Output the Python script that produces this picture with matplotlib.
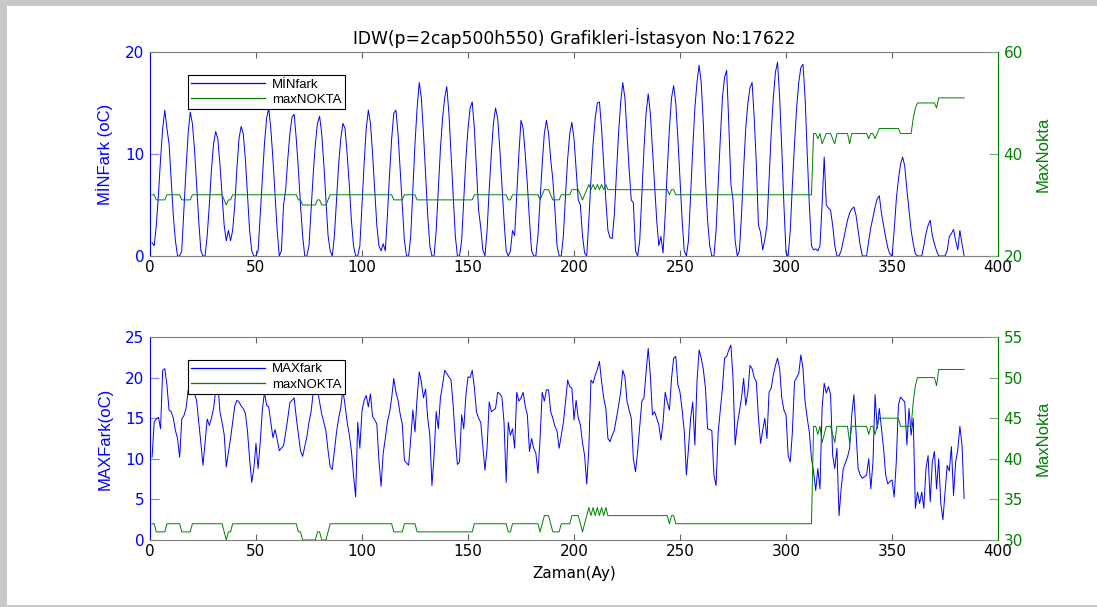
import matplotlib.pyplot as plt
import numpy as np
from matplotlib.patches import Rectangle

# monthly series, one row per year (32 years, 384 months)
months = np.arange(1, 385)

min_fark = np.array([
    [1.3, 1.0, 3.0, 6.0, 9.5, 12.5, 14.3, 12.5, 11.0, 7.5, 4.0, 1.5],
    [0.0, 0.0, 0.5, 4.5, 8.5, 12.0, 14.1, 13.0, 10.5, 7.0, 3.5, 0.5],
    [0.0, 0.0, 2.0, 5.0, 8.5, 11.0, 12.2, 11.5, 9.0, 6.0, 3.0, 1.5],
    [2.5, 1.5, 2.5, 5.0, 8.5, 11.5, 12.7, 12.0, 9.5, 6.0, 2.5, 0.5],
    [0.0, 0.0, 0.5, 4.0, 7.5, 11.0, 13.5, 14.5, 12.5, 9.5, 6.0, 2.5],
    [0.0, 0.5, 5.0, 6.5, 9.5, 12.0, 13.6, 13.9, 11.5, 8.5, 5.0, 2.0],
    [0.0, 0.0, 1.0, 4.5, 8.0, 11.0, 13.0, 13.7, 12.0, 9.0, 5.5, 2.0],
    [0.5, 0.0, 2.0, 5.5, 9.0, 11.5, 13.0, 12.5, 10.0, 7.0, 3.5, 1.0],
    [0.0, 0.0, 1.0, 5.0, 9.0, 12.5, 14.3, 13.0, 10.0, 6.5, 3.0, 1.0],
    [0.5, 1.2, 0.5, 4.0, 8.0, 11.5, 14.0, 14.3, 12.0, 8.5, 5.0, 1.5],
    [0.0, 0.0, 2.0, 6.5, 11.0, 14.5, 17.0, 15.5, 12.0, 8.0, 4.0, 1.0],
    [0.0, 0.0, 2.5, 6.5, 10.5, 13.5, 15.5, 16.6, 14.0, 10.0, 6.0, 2.0],
    [0.0, 0.0, 1.5, 5.5, 9.5, 12.5, 14.5, 15.1, 12.5, 8.5, 4.5, 2.8],
    [0.6, 0.0, 2.5, 6.5, 10.0, 13.0, 14.5, 13.5, 10.5, 7.0, 3.5, 0.5],
    [0.0, 0.5, 2.5, 2.0, 6.0, 10.0, 13.3, 12.5, 10.0, 7.0, 3.5, 0.5],
    [0.0, 0.0, 2.0, 5.5, 9.0, 12.0, 13.3, 12.0, 9.5, 7.5, 4.5, 1.0],
    [0.0, 0.0, 2.0, 6.0, 9.5, 12.0, 13.1, 11.5, 8.5, 5.5, 5.0, 2.0],
    [0.3, 0.0, 3.5, 7.5, 11.0, 13.5, 15.0, 15.1, 12.5, 9.0, 5.5, 2.5],
    [1.8, 1.7, 4.0, 8.0, 12.0, 15.0, 17.0, 15.5, 12.0, 8.5, 5.5, 5.2],
    [0.5, 0.0, 1.5, 6.0, 10.5, 14.0, 15.9, 14.0, 10.5, 7.0, 3.5, 1.0],
    [1.9, 0.3, 4.0, 8.5, 12.5, 15.5, 16.7, 15.0, 11.5, 7.5, 3.5, 0.5],
    [0.0, 1.5, 6.0, 10.5, 14.5, 17.0, 18.7, 17.0, 13.0, 7.5, 3.5, 1.0],
    [0.0, 0.0, 2.5, 7.0, 11.5, 15.5, 17.5, 18.2, 13.0, 7.0, 5.5, 1.5],
    [0.0, 0.5, 4.0, 8.5, 12.5, 15.0, 16.5, 17.0, 13.5, 9.0, 3.0, 2.3],
    [0.6, 1.6, 3.0, 7.5, 12.0, 15.5, 18.0, 19.0, 15.5, 10.5, 5.0, 0.3],
    [0.0, 2.5, 7.0, 11.0, 14.5, 17.0, 18.5, 18.8, 15.5, 10.0, 5.0, 1.0],
    [0.6, 0.7, 0.5, 1.0, 5.0, 9.7, 5.0, 4.7, 4.5, 3.0, 1.0, 0.0],
    [0.0, 0.5, 1.5, 2.5, 3.5, 4.2, 4.6, 4.8, 4.0, 2.5, 1.0, 0.0],
    [0.0, 0.0, 1.5, 2.8, 3.8, 4.8, 5.6, 5.9, 4.2, 3.0, 1.8, 0.8],
    [0.2, 0.0, 2.5, 5.5, 7.5, 9.0, 9.7, 8.8, 6.5, 4.5, 2.5, 1.2],
    [0.2, 0.0, 0.0, 0.0, 1.0, 2.2, 3.0, 3.5, 2.0, 1.2, 0.5, 0.0],
    [0.0, 0.0, 0.0, 0.5, 1.9, 2.2, 2.6, 1.5, 0.6, 2.5, 1.2, 0.0],
]).ravel()

max_fark = np.array([
    [10.2, 14.5, 14.9, 15.1, 13.7, 20.9, 21.1, 19.1, 16.0, 15.8, 15.0, 13.5],
    [12.5, 10.2, 14.9, 15.3, 16.2, 18.4, 19.0, 18.4, 18.0, 17.2, 14.5, 12.0],
    [9.2, 12.0, 14.9, 14.1, 15.0, 16.2, 18.4, 19.5, 15.8, 14.5, 13.0, 9.0],
    [10.8, 12.5, 14.5, 16.5, 17.2, 17.0, 16.5, 16.2, 15.6, 13.4, 10.0, 7.1],
    [8.8, 11.9, 8.8, 12.0, 16.0, 18.2, 16.6, 16.4, 14.5, 12.6, 13.6, 12.4],
    [11.0, 11.3, 11.6, 13.2, 15.0, 16.9, 17.2, 17.5, 15.1, 13.0, 11.0, 10.3],
    [11.5, 12.7, 14.5, 15.8, 18.2, 19.0, 18.5, 17.0, 15.5, 14.5, 13.4, 11.0],
    [9.0, 8.7, 11.0, 13.3, 15.0, 16.3, 18.5, 16.6, 14.5, 13.0, 11.0, 8.0],
    [5.3, 14.5, 11.3, 15.9, 17.2, 17.8, 16.4, 18.0, 15.2, 14.8, 14.3, 9.8],
    [6.6, 10.7, 12.5, 14.6, 15.7, 17.5, 19.9, 18.2, 17.2, 15.5, 14.3, 9.8],
    [9.5, 9.2, 12.5, 16.0, 13.3, 17.5, 20.7, 19.5, 17.5, 18.6, 15.0, 12.9],
    [6.7, 10.4, 15.8, 13.7, 17.5, 19.1, 20.9, 20.5, 20.1, 19.7, 16.6, 12.5],
    [9.3, 9.6, 15.4, 13.7, 17.8, 20.1, 20.0, 20.9, 18.8, 15.8, 15.0, 14.5],
    [11.5, 8.6, 11.3, 17.0, 15.8, 16.0, 16.2, 18.2, 18.0, 17.6, 14.5, 7.1],
    [14.5, 12.9, 13.7, 11.3, 18.2, 17.1, 17.5, 18.2, 16.5, 15.4, 10.9, 12.5],
    [11.3, 10.7, 8.2, 12.5, 18.2, 17.1, 18.5, 18.5, 15.8, 15.0, 14.0, 13.4],
    [11.3, 12.9, 14.5, 17.0, 19.7, 18.9, 18.7, 14.8, 17.2, 15.0, 14.2, 12.0],
    [10.4, 6.9, 11.3, 19.7, 19.3, 20.3, 21.0, 22.0, 19.5, 17.5, 16.2, 12.5],
    [12.1, 12.9, 13.5, 15.0, 16.5, 18.2, 20.9, 20.1, 17.1, 16.0, 15.0, 10.0],
    [8.4, 10.9, 14.0, 17.1, 17.5, 20.7, 23.6, 20.3, 15.4, 15.8, 15.0, 14.2],
    [12.3, 14.5, 18.2, 17.0, 16.0, 19.9, 22.4, 22.6, 19.1, 18.2, 16.0, 13.4],
    [8.0, 11.3, 15.0, 17.0, 11.7, 19.5, 23.4, 22.4, 21.0, 18.7, 13.7, 13.6],
    [13.5, 8.0, 6.7, 13.3, 16.0, 18.7, 22.4, 22.6, 23.4, 24.0, 19.9, 11.7],
    [14.2, 15.8, 17.5, 19.9, 16.6, 18.2, 21.5, 21.1, 20.0, 19.5, 15.0, 11.9],
    [13.5, 15.0, 12.5, 18.2, 18.7, 20.3, 21.5, 22.4, 21.1, 17.5, 16.0, 15.4],
    [10.4, 9.6, 13.3, 19.5, 20.0, 20.5, 22.8, 21.1, 17.0, 15.0, 13.3, 10.0],
    [8.4, 6.1, 8.8, 6.3, 16.2, 19.3, 18.1, 18.9, 17.9, 10.4, 8.8, 11.3],
    [3.0, 6.3, 8.8, 9.5, 10.2, 11.3, 15.4, 17.9, 13.3, 8.8, 8.0, 7.6],
    [7.8, 8.0, 10.0, 6.3, 9.6, 17.9, 13.7, 16.2, 13.7, 11.3, 8.0, 6.9],
    [7.2, 7.4, 5.3, 9.6, 16.6, 17.6, 17.3, 17.0, 11.7, 16.2, 12.9, 15.0],
    [3.9, 5.9, 4.5, 5.9, 3.9, 8.8, 10.4, 4.7, 9.6, 10.9, 6.3, 10.0],
    [4.5, 2.5, 5.9, 9.2, 8.5, 11.5, 5.5, 9.6, 11.1, 14.0, 11.7, 5.1],
]).ravel()

max_nokta = np.array([
    [32, 32, 31, 31, 31, 31, 31, 32, 32, 32, 32, 32],
    [32, 32, 31, 31, 31, 31, 31, 32, 32, 32, 32, 32],
    [32, 32, 32, 32, 32, 32, 32, 32, 32, 32, 31, 30],
    [31, 31, 32, 32, 32, 32, 32, 32, 32, 32, 32, 32],
    [32, 32, 32, 32, 32, 32, 32, 32, 32, 32, 32, 32],
    [32, 32, 32, 32, 32, 32, 32, 32, 32, 31, 31, 30],
    [30, 30, 30, 30, 30, 30, 31, 31, 30, 30, 30, 31],
    [32, 32, 32, 32, 32, 32, 32, 32, 32, 32, 32, 32],
    [32, 32, 32, 32, 32, 32, 32, 32, 32, 32, 32, 32],
    [32, 32, 32, 32, 32, 32, 31, 31, 31, 31, 31, 32],
    [32, 32, 32, 32, 32, 31, 31, 31, 31, 31, 31, 31],
    [31, 31, 31, 31, 31, 31, 31, 31, 31, 31, 31, 31],
    [31, 31, 31, 31, 31, 31, 31, 31, 32, 32, 32, 32],
    [32, 32, 32, 32, 32, 32, 32, 32, 32, 32, 32, 32],
    [31, 31, 32, 32, 32, 32, 32, 32, 32, 32, 32, 32],
    [32, 32, 32, 31, 32, 33, 33, 33, 32, 31, 31, 31],
    [31, 32, 32, 32, 32, 32, 33, 33, 33, 33, 32, 31],
    [32, 33, 34, 33, 34, 33, 34, 33, 34, 33, 34, 33],
    [33, 33, 33, 33, 33, 33, 33, 33, 33, 33, 33, 33],
    [33, 33, 33, 33, 33, 33, 33, 33, 33, 33, 33, 33],
    [33, 33, 33, 33, 32, 33, 33, 32, 32, 32, 32, 32],
    [32, 32, 32, 32, 32, 32, 32, 32, 32, 32, 32, 32],
    [32, 32, 32, 32, 32, 32, 32, 32, 32, 32, 32, 32],
    [32, 32, 32, 32, 32, 32, 32, 32, 32, 32, 32, 32],
    [32, 32, 32, 32, 32, 32, 32, 32, 32, 32, 32, 32],
    [32, 32, 32, 32, 32, 32, 32, 32, 32, 32, 32, 32],
    [44, 44, 43, 44, 42, 43, 44, 44, 44, 43, 42, 44],
    [44, 44, 44, 44, 44, 42, 44, 44, 44, 44, 44, 44],
    [44, 44, 43, 44, 44, 43, 44, 45, 45, 45, 45, 45],
    [45, 45, 45, 45, 45, 44, 44, 44, 44, 44, 44, 47],
    [49, 50, 50, 50, 50, 50, 50, 50, 50, 50, 49, 51],
    [51, 51, 51, 51, 51, 51, 51, 51, 51, 51, 51, 51],
]).ravel()

title = 'IDW(p=2cap500h550) Grafikleri-\u0130stasyon No:17622'
blue = '#0000ff'
green = '#008000'
narrow = ['Liberation Sans Narrow', 'Liberation Sans', 'DejaVu Sans']

plt.rcParams['font.family'] = ['DejaVu Sans']

fig = plt.figure(figsize=(10.97, 6.07), dpi=100)
# gray screenshot frame (top and left bands, thin line at the bottom)
fig.patch.set_facecolor('#c8c8c8')
fig.add_artist(Rectangle((7 / 1097, 2 / 607), 1090 / 1097, 599 / 607,
                         transform=fig.transFigure, facecolor='white',
                         edgecolor='none', zorder=-10))


def make_pair(rect, y, ylim, yticks, label_l, rlim, rticks, names):
    ax = fig.add_axes(rect)
    axr = ax.twinx()
    l1, = ax.plot(months, y, color=blue, lw=0.7)
    l2, = axr.plot(months, max_nokta, color=green, lw=0.7)
    ax.set_xlim(0, 400)
    ax.set_xticks(np.arange(0, 401, 50))
    ax.set_ylim(*ylim)
    ax.set_yticks(yticks)
    axr.set_ylim(*rlim)
    axr.set_yticks(rticks)
    for s in ('top', 'bottom'):
        ax.spines[s].set_color('#808080')
        axr.spines[s].set_visible(False)
    ax.spines['left'].set_color(blue)
    ax.spines['right'].set_visible(False)
    axr.spines['left'].set_visible(False)
    axr.spines['right'].set_color(green)
    ax.tick_params(axis='x', direction='in', top=True, length=4.5,
                   color='#606060', labelsize=11, pad=3)
    ax.tick_params(axis='y', direction='in', length=6.5, color='#8080ff',
                   labelcolor=blue, labelsize=11, pad=4)
    axr.tick_params(axis='y', direction='in', length=6.5, color='#70b070',
                    labelcolor=green, labelsize=11, pad=4)
    ax.set_ylabel(label_l, color=blue, fontsize=12, family=narrow)
    ax.yaxis.set_label_coords(-0.0436, 0.5)
    axr.set_ylabel('MaxNokta', color=green, fontsize=12, family=narrow)
    axr.yaxis.set_label_coords(1.0442, 0.5)
    leg = axr.legend([l1, l2], names, loc='upper left',
                     bbox_to_anchor=(0.045, 0.887), borderaxespad=0,
                     fancybox=False, framealpha=1, edgecolor='black',
                     handlelength=5.6, handletextpad=0.5,
                     borderpad=0.25, labelspacing=0.25,
                     prop={'family': ['Liberation Sans'], 'size': 9.5})
    leg.get_frame().set_linewidth(0.8)
    for h in leg.get_lines():
        h.set_linewidth(0.9)
    return ax, axr


ax1, ax1r = make_pair([0.1367, 0.5783, 0.7731, 0.3361], min_fark,
                      (0, 20), [0, 10, 20], 'M\u0130NFark (oC)',
                      (20, 60), [20, 40, 60], ['M\u0130Nfark', 'maxNOKTA'])
ax1.set_title(title, fontsize=12.3, pad=6)

ax2, ax2r = make_pair([0.1367, 0.1104, 0.7731, 0.3344], max_fark,
                      (0, 25), np.arange(0, 26, 5), 'MAXFark(oC)',
                      (30, 55), np.arange(30, 56, 5), ['MAXfark', 'maxNOKTA'])
ax2.set_xlabel('Zaman(Ay)', fontsize=11, labelpad=5)

fig.savefig('out.png', dpi=100, facecolor=fig.get_facecolor())
